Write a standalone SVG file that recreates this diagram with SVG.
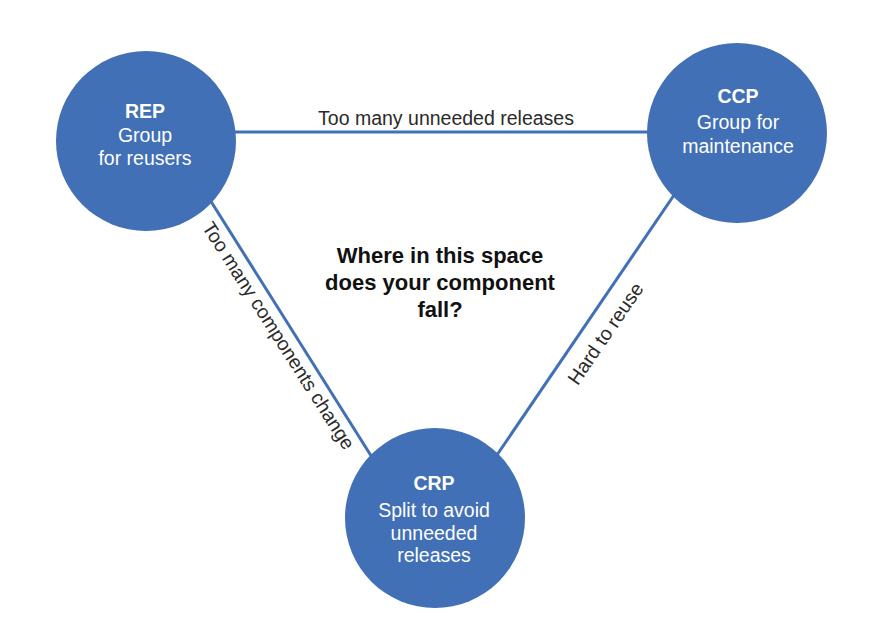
<svg xmlns="http://www.w3.org/2000/svg" width="874" height="624" viewBox="0 0 874 624">
<style>
.edge{stroke:#4170b6;stroke-width:3;fill:none}
.node{fill:#4170b6}
.nt{font-family:"Liberation Sans",Arial,sans-serif;font-size:19.5px;fill:#ffffff;text-anchor:middle}
.nb{font-weight:bold}
.lbl{font-family:"Liberation Sans",Arial,sans-serif;font-size:19.5px;fill:#2a2a2a;text-anchor:middle}
.q{font-family:"Liberation Sans",Arial,sans-serif;font-size:22px;font-weight:bold;fill:#111111;text-anchor:middle}
</style>
<rect width="874" height="624" fill="#ffffff"/>
<g id="connectors">
<line class="edge" x1="230" y1="132" x2="650" y2="132"/>
<line class="edge" x1="195" y1="176" x2="380" y2="470"/>
<line class="edge" x1="685" y1="179" x2="484" y2="474"/>
<text class="lbl" x="446" y="125">Too many unneeded releases</text>
<text class="lbl" transform="translate(278,336) rotate(57.5)" x="0" y="6">Too many components change</text>
<text class="lbl" transform="translate(606,334) rotate(-55.7)" x="0" y="6">Hard to reuse</text>
</g>
<g id="REP">
<circle class="node" cx="146" cy="141" r="90"/>
<text class="nt nb" x="145" y="118">REP</text>
<text class="nt" x="145" y="142">Group</text>
<text class="nt" x="145" y="165">for reusers</text>
</g>
<g id="CCP">
<circle class="node" cx="737" cy="133" r="90"/>
<text class="nt nb" x="738" y="103">CCP</text>
<text class="nt" x="738" y="129">Group for</text>
<text class="nt" x="738" y="153">maintenance</text>
</g>
<g id="CRP">
<circle class="node" cx="435" cy="518" r="90"/>
<text class="nt nb" x="434" y="490">CRP</text>
<text class="nt" x="434" y="517">Split to avoid</text>
<text class="nt" x="434" y="540">unneeded</text>
<text class="nt" x="434" y="562">releases</text>
</g>
<g id="question">
<text class="q" x="440" y="263">Where in this space</text>
<text class="q" x="440" y="290">does your component</text>
<text class="q" x="440" y="317">fall?</text>
</g>
</svg>
